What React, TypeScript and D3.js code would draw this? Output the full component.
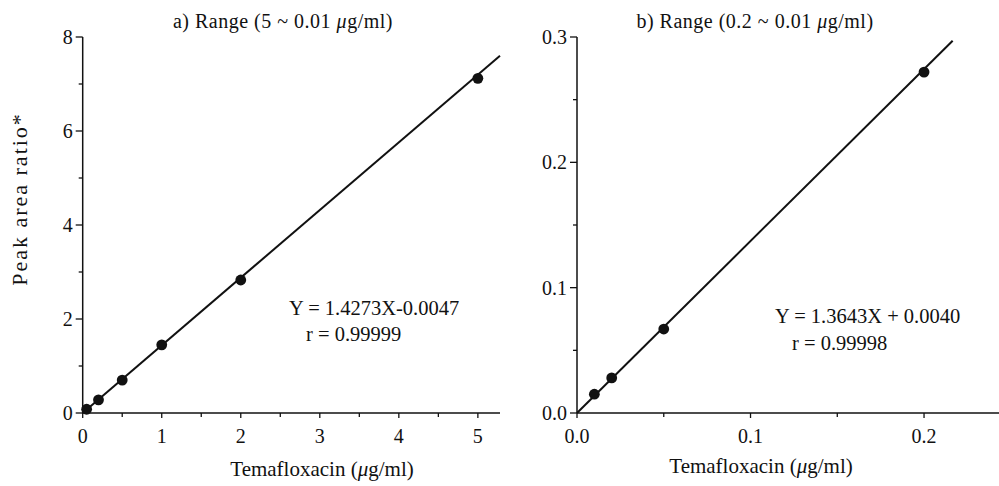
import React from "react";
import * as d3 from "d3";

// ---------- data ----------
const leftConc = [0.05, 0.2, 0.5, 1, 2, 5];
const leftRatio = [0.08, 0.28, 0.7, 1.45, 2.83, 7.12];
const leftFitX = [0, 5.28];
const leftFitY = [0, 7.6];
const leftXMajor = [0, 1, 2, 3, 4, 5];
const leftXMinor = [0.5, 1.5, 2.5, 3.5, 4.5];
const leftYMajor = [0, 2, 4, 6, 8];
const leftYMinor = [1, 3, 5, 7];

const rightConc = [0.01, 0.02, 0.05, 0.2];
const rightRatio = [0.015, 0.028, 0.067, 0.272];
const rightFitX = [0, 0.2165];
const rightFitY = [0, 0.297];
const rightXMajor = [0, 0.1, 0.2];
const rightXMinor = [0.05, 0.15];
const rightYMajor = [0, 0.1, 0.2, 0.3];
const rightYMinor = [0.05, 0.15, 0.25];

const FONT = "'Liberation Serif', 'Times New Roman', serif";

type PanelProps = {
  xs: d3.ScaleLinear<number, number>;
  ys: d3.ScaleLinear<number, number>;
  conc: number[];
  ratio: number[];
  fitX: number[];
  fitY: number[];
  xMajor: number[];
  xMinor: number[];
  yMajor: number[];
  yMinor: number[];
  fmt: (v: number) => string;
  title: React.ReactNode;
  titleX: number;
  xTitleX: number;
  xTitleY: number;
  eq: string;
  r: string;
  eqX: number;
  eqY: number;
  rX: number;
  rY: number;
};

function Panel(p: PanelProps) {
  const [x0, x1] = p.xs.range();
  const [y0, y1] = p.ys.range();
  const line = d3
    .line<number>()
    .x((_, i) => p.xs(p.fitX[i]))
    .y((_, i) => p.ys(p.fitY[i]));
  return (
    <g fontFamily={FONT} fill="#111">
      {/* axes */}
      <line x1={x0} x2={x0} y1={y0} y2={y1} stroke="#111" strokeWidth={1.5} />
      <line x1={x0} x2={x1} y1={y0} y2={y0} stroke="#111" strokeWidth={1.5} />
      {p.yMajor.map((v) => (
        <g key={"ym" + v}>
          <line x1={x0 - 7} x2={x0} y1={p.ys(v)} y2={p.ys(v)} stroke="#111" strokeWidth={1.3} />
          <text x={x0 - 10} y={p.ys(v)} dy="0.35em" textAnchor="end" fontSize={20}>
            {p.fmt(v)}
          </text>
        </g>
      ))}
      {p.yMinor.map((v) => (
        <line key={"yn" + v} x1={x0 - 4} x2={x0} y1={p.ys(v)} y2={p.ys(v)} stroke="#111" strokeWidth={1.3} />
      ))}
      {p.xMajor.map((v) => (
        <g key={"xm" + v}>
          <line x1={p.xs(v)} x2={p.xs(v)} y1={y0} y2={y0 + 5} stroke="#111" strokeWidth={1.3} />
          <text x={p.xs(v)} y={y0 + 30} textAnchor="middle" fontSize={20}>
            {p.fmt(v)}
          </text>
        </g>
      ))}
      {p.xMinor.map((v) => (
        <line key={"xn" + v} x1={p.xs(v)} x2={p.xs(v)} y1={y0} y2={y0 + 4} stroke="#111" strokeWidth={1.3} />
      ))}
      {/* fit line */}
      <path d={line(p.fitX) || ""} fill="none" stroke="#111" strokeWidth={2} />
      {/* points */}
      {p.conc.map((c, i) => (
        <circle key={"pt" + i} cx={p.xs(c)} cy={p.ys(p.ratio[i])} r={5.4} fill="#111" />
      ))}
      {/* texts */}
      <text x={p.titleX} y={28} textAnchor="middle" fontSize={20} letterSpacing={0.5}>
        {p.title}
      </text>
      <text x={p.xTitleX} y={p.xTitleY} textAnchor="middle" fontSize={21}>
        Temafloxacin (<tspan fontStyle="italic">μ</tspan>g/ml)
      </text>
      <text x={p.eqX} y={p.eqY} fontSize={20.5}>
        {p.eq}
      </text>
      <text x={p.rX} y={p.rY} fontSize={20.5}>
        {p.r}
      </text>
    </g>
  );
}

export default function App() {
  const lx = d3.scaleLinear().domain([0, 5.28]).range([82.7, 500]);
  const ly = d3.scaleLinear().domain([0, 8]).range([413, 37]);
  const rx = d3.scaleLinear().domain([0, 0.2432]).range([577, 999]);
  const ry = d3.scaleLinear().domain([0, 0.3]).range([413, 37]);
  return (
    <svg width={999} height={486} style={{ position: "absolute", left: 0, top: 0, background: "#fff" }}>
      <rect width={999} height={486} fill="#fff" />
      <Panel
        xs={lx}
        ys={ly}
        conc={leftConc}
        ratio={leftRatio}
        fitX={leftFitX}
        fitY={leftFitY}
        xMajor={leftXMajor}
        xMinor={leftXMinor}
        yMajor={leftYMajor}
        yMinor={leftYMinor}
        fmt={(v) => d3.format("d")(v)}
        title={
          <>
            a) Range (5 ~ 0.01 <tspan fontStyle="italic">μ</tspan>g/ml)
          </>
        }
        titleX={283}
        xTitleX={322}
        xTitleY={476}
        eq="Y = 1.4273X-0.0047"
        r="r = 0.99999"
        eqX={289}
        eqY={315}
        rX={306}
        rY={341}
      />
      <Panel
        xs={rx}
        ys={ry}
        conc={rightConc}
        ratio={rightRatio}
        fitX={rightFitX}
        fitY={rightFitY}
        xMajor={rightXMajor}
        xMinor={rightXMinor}
        yMajor={rightYMajor}
        yMinor={rightYMinor}
        fmt={(v) => d3.format(".1f")(v)}
        title={
          <>
            b) Range (0.2 ~ 0.01 <tspan fontStyle="italic">μ</tspan>g/ml)
          </>
        }
        titleX={755}
        xTitleX={761}
        xTitleY={473}
        eq="Y = 1.3643X + 0.0040"
        r="r = 0.99998"
        eqX={775}
        eqY={323}
        rX={792}
        rY={350}
      />
      <text
        transform="translate(27,199) rotate(-90)"
        textAnchor="middle"
        fontSize={22}
        letterSpacing={2}
        fontFamily={FONT}
        fill="#111"
      >
        Peak area ratio*
      </text>
    </svg>
  );
}
